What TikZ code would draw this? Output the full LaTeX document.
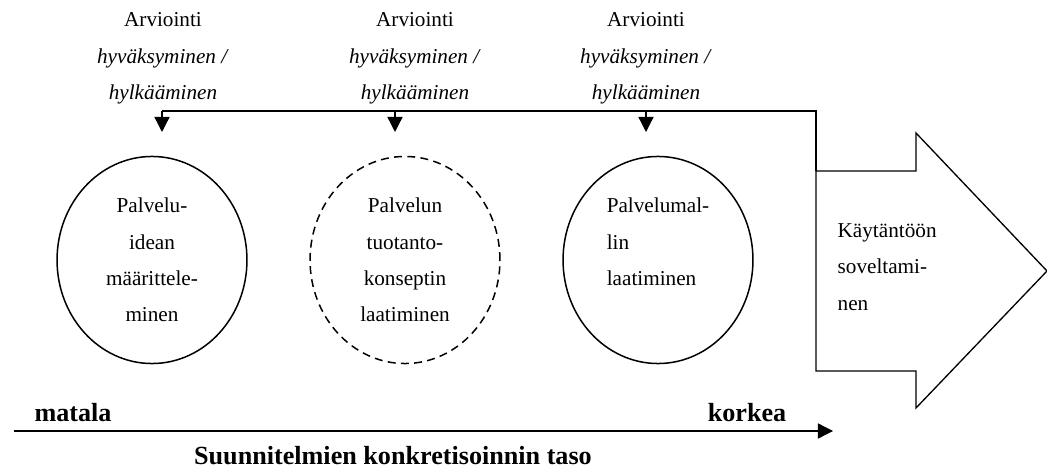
\documentclass[tikz,border=0pt]{standalone}
\usepackage{fontspec}
\setmainfont{Liberation Serif}
\usetikzlibrary{arrows.meta,shapes.geometric}

\begin{document}
\begin{tikzpicture}[x=0.566pt, y=-0.566pt, line width=0.75pt,
		tip/.style={-{Triangle[length=8.5pt, width=8.5pt]}},
		para/.style={font=\fontsize{12}{20.6}\selectfont, inner sep=0pt},
		phase/.style={para, draw, line width=0.85pt, ellipse, minimum width=107.5pt, minimum height=117.2pt, align=center},
		axis/.style={font=\bfseries\fontsize{14.8}{17}\selectfont, inner sep=0pt, anchor=base}]
		\useasboundingbox (0, 0) rectangle (1047, 470);

		% evaluation points above the phases
		\foreach \i/\lx/\ax in {1/163/162, 2/415/395, 3/646/646} {
			\node[para, align=center] (eval\i) at (\lx, 58.5) {Arviointi\\\textit{hyväksyminen /}\\\textit{hylkääminen}};
			\coordinate (in\i) at (\ax, 132);
		}

		\node[phase] (idea) at (152, 260) {Palvelu-\\idean\\määrittele-\\minen};
		\node[phase, dash pattern=on 4.5pt off 3pt] (concept) at (405, 260) {Palvelun\\tuotanto-\\konseptin\\laatiminen};
		\node[phase, align=left] (model) at (658, 260) {Palvelumal-\\lin\\laatiminen\\\mbox{}};

		% block arrow
		\draw (816, 171) coordinate (apply) --
		(916, 171) --
		(916, 133) --
		(1047, 271) --
		(916, 408) --
		(916, 371) --
		(816, 371) --
		cycle;
		\node[para, align=left, anchor=west] (applytext) at (837, 267) {Käytäntöön\\soveltami-\\nen};

		% feedback line
		\coordinate (back) at (816, 111);
		\draw (apply) -- (back) -- (in1 |- back);
		\foreach \i in {1, 2, 3}
			\draw[tip] (in\i |- back) -- (in\i);

		% level axis
		\coordinate (low) at (14, 431);
		\coordinate (high) at (833, 431);
		\draw[tip] (low) -- (high);
		\node[axis] (lowtext) at (73, 421) {matala};
		\node[axis] (hightext) at (747, 421) {korkea};
		\node[axis] (axistitle) at (393, 464) {Suunnitelmien konkretisoinnin taso};
	\end{tikzpicture}
\end{document}
